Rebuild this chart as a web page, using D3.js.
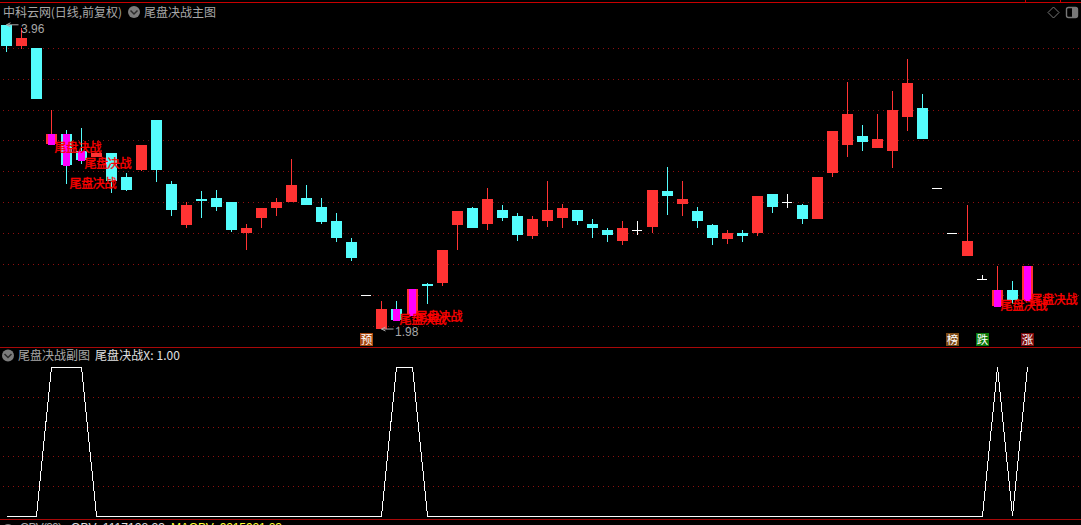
<!DOCTYPE html>
<html><head><meta charset="utf-8">
<script src="https://cdnjs.cloudflare.com/ajax/libs/d3/7.8.5/d3.min.js"></script>
<style>html,body{margin:0;padding:0;background:#000;overflow:hidden}svg{display:block}
text{font-family:"Noto Sans CJK SC","Noto Sans",sans-serif;font-size:12px}
.num{font-family:"Liberation Sans",sans-serif}</style></head><body>
<script>
const open_=[3.981,3.842,3.829,3.198,3.263,3.152,3.112,3.138,2.980,3.026,3.355,2.934,2.665,2.836,2.842,2.816,2.612,2.711,2.776,2.816,2.842,2.783,2.691,2.553,2.204,1.980,2.112,2.072,2.276,2.283,2.665,2.776,2.671,2.763,2.724,2.592,2.691,2.711,2.763,2.671,2.632,2.559,2.632,2.651,2.888,2.803,2.757,2.665,2.572,2.612,2.612,2.869,2.816,2.796,2.704,3.007,3.191,3.250,3.171,3.152,3.375,3.434,2.908,2.612,2.461,2.309,2.132,2.237,2.171];
const high=[3.981,3.961,3.829,3.421,3.290,3.303,3.138,3.138,3.007,3.191,3.355,2.954,2.816,2.888,2.895,2.816,2.671,2.776,2.842,3.099,2.928,2.842,2.744,2.579,2.204,2.165,2.165,2.243,2.283,2.500,2.757,2.783,2.908,2.796,2.744,2.724,2.954,2.803,2.763,2.704,2.645,2.691,2.691,2.895,3.046,2.954,2.783,2.671,2.632,2.632,2.855,2.869,2.869,2.803,2.980,3.283,3.606,3.323,3.395,3.546,3.757,3.527,2.908,2.612,2.796,2.336,2.395,2.296,2.395];
const low=[3.803,3.823,3.494,3.198,2.934,3.066,3.112,2.875,2.888,3.020,2.948,2.724,2.645,2.711,2.757,2.619,2.500,2.645,2.724,2.816,2.796,2.671,2.553,2.428,2.204,1.980,2.039,2.072,2.145,2.263,2.500,2.645,2.632,2.691,2.559,2.572,2.651,2.645,2.665,2.579,2.553,2.533,2.599,2.612,2.730,2.724,2.645,2.533,2.540,2.553,2.592,2.744,2.776,2.671,2.704,2.980,3.112,3.152,3.171,3.040,3.283,3.230,2.908,2.612,2.461,2.309,2.132,2.145,2.171];
const close_=[3.842,3.895,3.494,3.263,3.059,3.092,3.138,2.954,2.895,3.191,3.026,2.763,2.796,2.823,2.783,2.632,2.645,2.776,2.816,2.928,2.796,2.684,2.579,2.447,2.204,2.112,2.039,2.243,2.263,2.500,2.757,2.645,2.836,2.711,2.599,2.704,2.763,2.776,2.691,2.645,2.599,2.645,2.632,2.895,2.855,2.836,2.691,2.579,2.612,2.592,2.855,2.783,2.816,2.704,2.980,3.283,3.395,3.211,3.230,3.421,3.599,3.230,2.908,2.612,2.559,2.309,2.237,2.171,2.395];
const signal=[0,0,0,1,1,1,0,0,0,0,0,0,0,0,0,0,0,0,0,0,0,0,0,0,0,0,1,1,0,0,0,0,0,0,0,0,0,0,0,0,0,0,0,0,0,0,0,0,0,0,0,0,0,0,0,0,0,0,0,0,0,0,0,0,0,0,1,0,1];
const labelPrices=[3.171,2.934,3.066,2.043,2.059,2.132,2.171];
const labelText="尾盘决战";
const priceTicks=[1.998,2.202,2.406,2.610,2.813,3.017,3.221,3.418,3.622,3.826];
const subTicks=[0.2,0.4,0.6,0.8];
const tagIdx=[24,63,65,68];
const tagText=["预","榜","跌","涨"];
const tagFill=["#a8480f","#7d4a14","#0b7a0b","#7b0a0a"];
const titleMain="中科云网(日线,前复权)";
const titleInd="尾盘决战主图";
const titleSub="尾盘决战副图";
const subValueLabel="尾盘决战X: 1.00";
const highLabel="3.96", lowLabel="1.98";

const W=1081,H=525;
const svg=d3.select("body").append("svg").attr("width",W).attr("height",H);
svg.append("rect").attr("width",W).attr("height",H).attr("fill","#000");
const xRaw=d3.scaleLinear().domain([0,68]).range([6.5,1027.76]);
const x=i=>Math.floor(xRaw(i))+.5;
const y=d3.scaleLinear().domain([2,3.96]).range([326,28]);
const ys=d3.scaleLinear().domain([0,1]).range([516,367]);
const RED="#ff3333",CYAN="#54fcfc",MAG="#ff00ff",GRID="#8e0f0f",LINE="#a80808",GRAY="#a8a8a8";
const ry=v=>Math.round(y(v));

// separators and top bar
const g0=svg.append("g").attr("shape-rendering","crispEdges");
g0.append("line").attr("x1",0).attr("x2",W).attr("y1",2.5).attr("y2",2.5).attr("stroke","#c80000");
[347.5,519.5].forEach(v=>g0.append("line").attr("x1",0).attr("x2",W).attr("y1",v).attr("y2",v).attr("stroke",LINE));
[1025.5,1060.5].forEach(v=>g0.append("line").attr("x1",v).attr("x2",v).attr("y1",0).attr("y2",2).attr("stroke","#c80000"));
// grids through scales
const grid=svg.append("g").attr("shape-rendering","crispEdges");
grid.selectAll(".gm").data(priceTicks).join("line").attr("class","gm").attr("x1",3).attr("x2",1079)
 .attr("y1",d=>ry(d)+.5).attr("y2",d=>ry(d)+.5).attr("stroke",GRID).attr("stroke-dasharray","1 4");
grid.selectAll(".gs").data(subTicks).join("line").attr("class","gs").attr("x1",3).attr("x2",1079)
 .attr("y1",d=>Math.round(ys(d))+.5).attr("y2",d=>Math.round(ys(d))+.5).attr("stroke",GRID).attr("stroke-dasharray","1 4");

// candles
const idx=d3.range(open_.length);
const color=i=>close_[i]>open_[i]?RED:close_[i]<open_[i]?CYAN:"#ffffff";
const gc=svg.append("g").attr("shape-rendering","crispEdges");
gc.selectAll(".w").data(idx).join("rect").attr("class","w")
 .attr("x",i=>x(i)-.5).attr("width",1)
 .attr("y",i=>ry(high[i])).attr("height",i=>ry(low[i])-ry(high[i]))
 .attr("fill",color);
gc.selectAll(".b").data(idx).join("rect").attr("class","b")
 .attr("x",i=>x(i)-5.5)
 .attr("width",i=>close_[i]===open_[i]?10:11)
 .attr("y",i=>ry(Math.max(open_[i],close_[i])))
 .attr("height",i=>Math.max(1,ry(Math.min(open_[i],close_[i]))-ry(Math.max(open_[i],close_[i]))))
 .attr("fill",color);
// signal overlay
const sig=idx.filter(i=>signal[i]===1);
gc.selectAll(".m").data(sig).join("rect").attr("class","m")
 .attr("x",i=>x(i)-3.5).attr("width",7)
 .attr("y",i=>ry(Math.max(open_[i],close_[i])))
 .attr("height",i=>ry(Math.min(open_[i],close_[i]))-ry(Math.max(open_[i],close_[i]))+1)
 .attr("fill",MAG);
// signal labels
svg.append("g").selectAll("text").data(sig).join("text")
 .attr("x",i=>x(i)+3).attr("y",(i,k)=>y(labelPrices[k])).attr("dy",".36em")
 .attr("fill","#ff0000").attr("stroke","#ff0000").attr("stroke-width",.35).attr("textLength",47).text(labelText);

// high / low markers
function marker(i,v,txt,tx,ty){
 const g=svg.append("g");
 const px=x(i),py=y(v);
 g.append("path").attr("d",`M${px} ${py}h12M${px} ${py}l4 -2M${px} ${py}l4 2`).attr("stroke",GRAY).attr("fill","none");
 g.append("text").attr("class","num").attr("x",px+tx).attr("y",py+ty).attr("fill",GRAY).text(txt);
}
marker(0,3.981,highLabel,14.5,8.5);
marker(25,1.980,lowLabel,13.5,6.5);

// tags
const gt=svg.append("g");
tagIdx.forEach((i,k)=>{
 const cx=x(i);
 gt.append("rect").attr("x",cx-6.5).attr("y",333).attr("width",13).attr("height",13).attr("fill",tagFill[k]).attr("shape-rendering","crispEdges");
 gt.append("text").attr("x",cx).attr("y",344).attr("text-anchor","middle").attr("fill","#fff").style("font-size","11.5px").text(tagText[k]);
});

// sub line
svg.append("path").attr("fill","none").attr("stroke","#fff").attr("stroke-width",1).attr("shape-rendering","crispEdges")
 .attr("d",d3.line().x(i=>x(i)).y(i=>ys(signal[i]))(idx));

// headers
function icon(cx,cy){
 svg.append("circle").attr("cx",cx).attr("cy",cy).attr("r",6).attr("fill","#7c7c7c");
 svg.append("path").attr("d",`M${cx-3.5} ${cy-1.5}L${cx} ${cy+2}L${cx+3.5} ${cy-1.5}`).attr("stroke","#2a2a2a").attr("stroke-width",1.5).attr("fill","none");
}
function label(t,xx,yy,fill,len,cls){
 const e=svg.append("text").attr("x",xx).attr("y",yy).attr("fill",fill).text(t);
 if(len)e.attr("textLength",len);
 if(cls)e.attr("class",cls);
}
label(titleMain,3,16.5,GRAY,119);
icon(134,12);
label(titleInd,144,16.5,GRAY,72);
icon(8,355.5);
label(titleSub,18,360,GRAY,72);
label(subValueLabel,95,360,"#e0e0e0",85);
icon(8,530);
label("OBV(30)",20,532,GRAY,42,"num");
label("OBV: 1117128.23",71,532,"#e0e0e0",94,"num");
label("MAOBV: 9215921.23",171,532,"#ffff33",111,"num");

// window buttons
svg.append("path").attr("d","M1053.5 7L1059 12.5L1053.5 18L1048 12.5Z").attr("fill","none").attr("stroke","#777");
svg.append("rect").attr("x",1066.5).attr("y",7.5).attr("width",11).attr("height",10).attr("rx",2).attr("fill","none").attr("stroke","#777").attr("stroke-width",1.4);
svg.append("rect").attr("x",1072).attr("y",8).attr("width",5).attr("height",9).attr("fill","#777");
</script></body></html>
